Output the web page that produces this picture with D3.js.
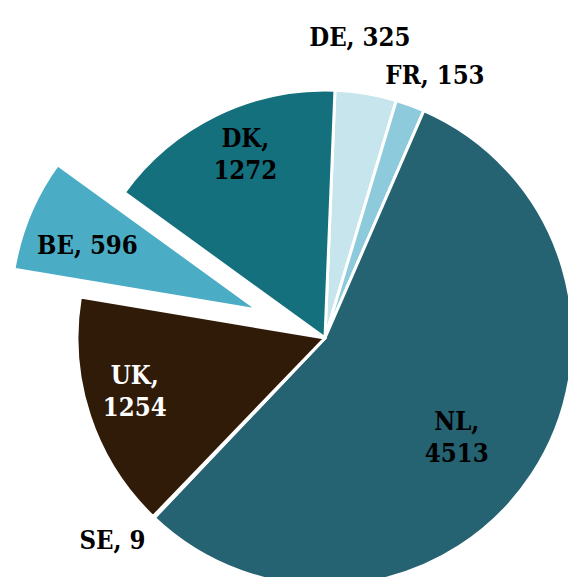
<!DOCTYPE html>
<html><head><meta charset="utf-8">
<script src="https://cdn.jsdelivr.net/npm/d3@7"></script>
<style>body{margin:0;background:#fff}svg{display:block}</style>
</head><body>
<svg id="c" width="568" height="577"></svg>
<script>
const labels = ["DE","FR","NL","SE","UK","BE","DK"];
const values = [325,153,4513,9,1254,596,1272];
const colors = ["#c6e5ed","#8dcadb","#256272","#1b4f5e","#301b09","#4aadc5","#15707d"];
const textColors = ["#000","#000","#000","#000","#fff","#000","#000"];
const pulled = [0,0,0,0,0,1,0];
const outside = [1,1,0,1,0,0,0];
// label placement (radius, angle nudge in degrees)
const labelR = [303,285,170,293,200,183,193];
const labelDA = [-2.9,2.6,5.7,2.8,0.3,-2.0,1.5];

const W=568,H=577, cx=325, cy=338, R=248, pull=72, rot=2.3*Math.PI/180;
const svg=d3.select("#c");
const pie=d3.pie().sort(null).value(d=>d.v).startAngle(rot).endAngle(rot+2*Math.PI);
const data=pie(labels.map((l,i)=>({l,v:values[i],i})));
const arc=d3.arc().innerRadius(0).outerRadius(R);
const g=svg.append("g").attr("transform",`translate(${cx},${cy})`);
const off=d=>{const a=(d.startAngle+d.endAngle)/2;const p=pulled[d.data.i]*pull;return [Math.sin(a)*p,-Math.cos(a)*p];};
g.selectAll("path").data(data).join("path")
 .attr("d",arc)
 .attr("transform",d=>`translate(${off(d)})`)
 .attr("fill",d=>colors[d.data.i])
 .attr("stroke","#fff").attr("stroke-width",3).attr("stroke-linejoin","round");

const lab=g.selectAll("text").data(data).join("text")
 .attr("font-family","'DejaVu Serif Condensed','DejaVu Serif',serif")
 .attr("font-weight","bold").attr("font-size",25.5)
 .attr("text-anchor","middle")
 .attr("fill",d=>outside[d.data.i]?"#000":textColors[d.data.i])
 .attr("transform",d=>{
   const i=d.data.i;
   const a=(d.startAngle+d.endAngle)/2+labelDA[i]*Math.PI/180;
   const o=off(d);
   return `translate(${o[0]+Math.sin(a)*labelR[i]},${o[1]-Math.cos(a)*labelR[i]})`;
 });
lab.each(function(d){
  const t=d3.select(this);
  const i=d.data.i;
  if(outside[i]||labels[i]==="BE"){
    t.append("tspan").attr("x",0).attr("dy","0.35em").text(`${labels[i]}, ${values[i]}`);
  } else {
    t.append("tspan").attr("x",0).attr("dy","-0.6em").text(`${labels[i]},`);
    t.append("tspan").attr("x",0).attr("dy","1.25em").text(`${values[i]}`);
  }
});
</script>
</body></html>
